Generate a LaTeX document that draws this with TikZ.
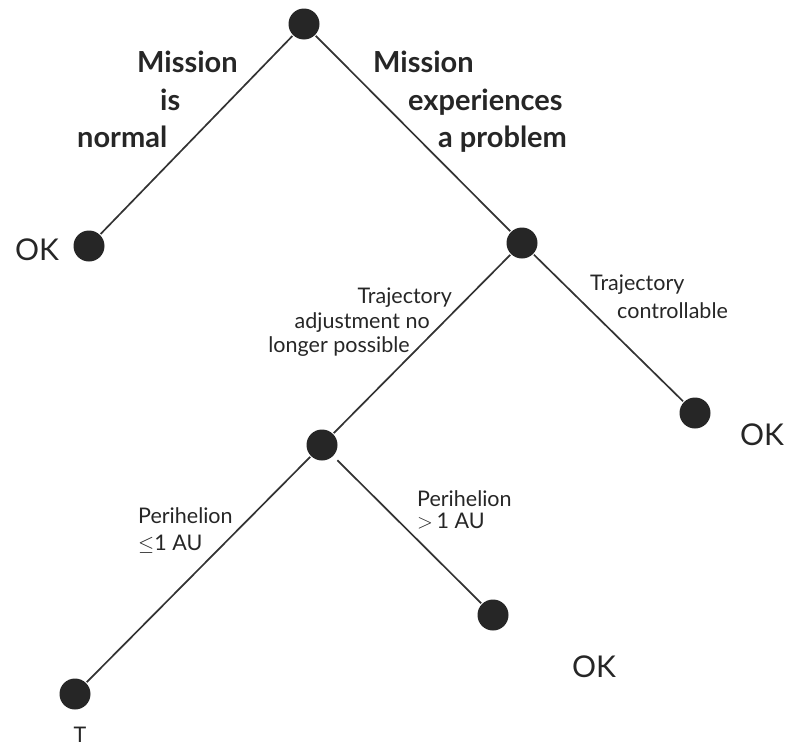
\documentclass[tikz,border=0pt]{standalone}
\usepackage{fontspec}
\setmainfont{Lato}
\usetikzlibrary{positioning}

\begin{document}
\begin{tikzpicture}[x=1pt,y=-1pt,
  event/.style={circle,fill=black!85,inner sep=0pt,minimum size=31pt},
  branch/.style={draw=black!80,line width=1.7pt,shorten <=1pt,shorten >=1pt},
  bigtxt/.style={inner sep=0pt,font=\fontsize{29}{35}\selectfont\bfseries,text=black!85},
  smalltxt/.style={inner sep=0pt,font=\fontsize{21.5}{25}\selectfont,text=black!85},
  oktxt/.style={inner sep=0pt,font=\fontsize{30}{36}\selectfont,text=black!85}]
\useasboundingbox (0,0) rectangle (790,747);

%event nodes
\node[event] (root) at (304,24)  {};
\node[event] (okL)  at (89,246)  {};
\node[event] (prob) at (522,243) {};
\node[event] (okR)  at (695,413) {};
\node[event] (lost) at (322,445) {};
\node[event] (okP)  at (493,615) {};
\node[event] (term) at (75,694)  {};

%branches
\draw[branch] (root) -- (okL);
\draw[branch] (root) -- (prob);
\draw[branch] (prob) -- (lost);
\draw[branch] (prob) -- (okR);
\draw[branch] (lost) -- (term);
\draw[branch,shorten <=6pt] (lost) -- (okP);

%top labels
\node[bigtxt,anchor=base west] (normA) at (137,72)  {Mission};
\node[bigtxt,anchor=base west] (normB) at (160,110) {is};
\node[bigtxt,anchor=base west] (normC) at (77,147)  {normal};
\node[bigtxt,anchor=base west] (probA) at (373,72)  {Mission};
\node[bigtxt,anchor=base west] (probB) at (408,110) {experiences};
\node[bigtxt,anchor=base west] (probC) at (438,147) {a problem};

%middle labels
\node[smalltxt,anchor=base east] (lostA) at (452,303) {Trajectory};
\node[smalltxt,anchor=base east] (lostB) at (430,328) {adjustment no};
\node[smalltxt,anchor=base east] (lostC) at (410,352) {longer possible};
\node[smalltxt,anchor=base west] (ctrlA) at (590,290) {Trajectory};
\node[smalltxt,anchor=base west] (ctrlB) at (617,318) {controllable};

%bottom labels
\node[smalltxt,anchor=base west] (periA) at (138,523) {Perihelion};
\node[smalltxt,anchor=base west] (periB) at (138,550) {$\leq$1 AU};
\node[smalltxt,anchor=base west] (periC) at (417,506) {Perihelion};
\node[smalltxt,anchor=base west] (periD) at (417,528) {$>$\,1 AU};

%outcomes
\node[oktxt,anchor=base west] (okLt) at (15,260)  {OK};
\node[oktxt,anchor=base west] (okRt) at (740,445) {OK};
\node[oktxt,anchor=base west] (okPt) at (572,677) {OK};
\node[smalltxt,anchor=base] (termt) at (80,742) {T};
\end{tikzpicture}
\end{document}
